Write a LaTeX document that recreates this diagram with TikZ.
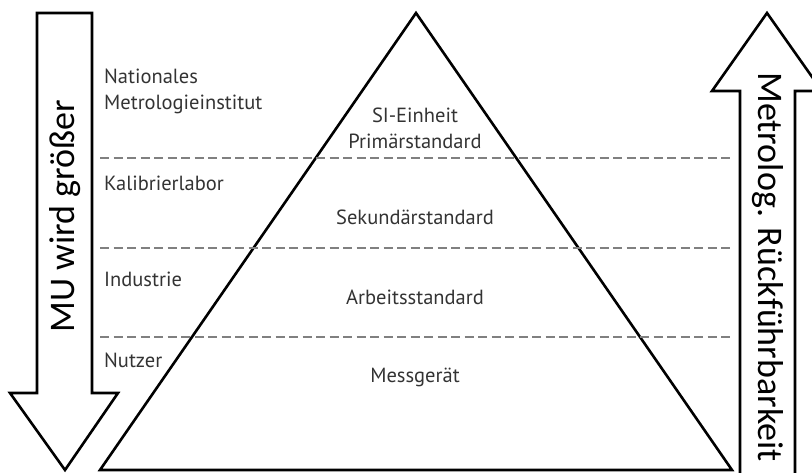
\documentclass[tikz,border=0pt]{standalone}
\usepackage{fontspec}
\setmainfont{PT Sans}
\newfontfamily\pfeilfont{Carlito}
\tikzset{>=latex}
\tikzset{
    pfeil/.style={draw=black, line width=2.6pt, line join=miter},
    stufe/.style={draw=black!50, line width=2.6pt, dash pattern=on 9pt off 4.5pt},
    lbl/.style={text=black!80, font=\fontsize{20.5}{26}\selectfont, inner sep=0pt},
    vtext/.style={font=\pfeilfont\fontsize{36}{40}\selectfont, inner sep=0pt}
}

\begin{document}
\begin{tikzpicture}[x=1pt, y=-1pt]
    \clip(0, 0) rectangle (812, 473);
    \draw[pfeil](37, 13)--(92, 13)--(92, 393)--(118, 393)--(65, 470)--(10, 393)--(37, 393)--cycle;
    \node[vtext, rotate=90] (mu) at (65, 216) {MU wird größer};
    \draw[pfeil](740, 480)--(740, 91)--(712, 91)--(767, 13)--(822, 91)--(795, 91)--(795, 480);
    \node[vtext, rotate=-90] (rueck) at (768, 267) {Metrolog. Rückführbarkeit};
    \draw[pfeil](416, 13)--(732, 470)--(100, 470)--cycle;
    \foreach \y in {158, 248, 337}
        \draw[stufe](100, \y)--(730, \y);
    \node[lbl, anchor=west, align=left] (nmi) at (104, 91) {Nationales\\Metrologieinstitut};
    \node[lbl, anchor=west] (kal) at (104, 183) {Kalibrierlabor};
    \node[lbl, anchor=west] (ind) at (104, 279) {Industrie};
    \node[lbl, anchor=west] (nutz) at (104, 360) {Nutzer};
    \node[lbl, align=center] (prim) at (415, 128) {SI-Einheit\\Primärstandard};
    \node[lbl] (sek) at (415, 217) {Sekundärstandard};
    \node[lbl] (arb) at (415, 297) {Arbeitsstandard};
    \node[lbl] (mess) at (415, 377) {Messgerät};
\end{tikzpicture}
\end{document}
